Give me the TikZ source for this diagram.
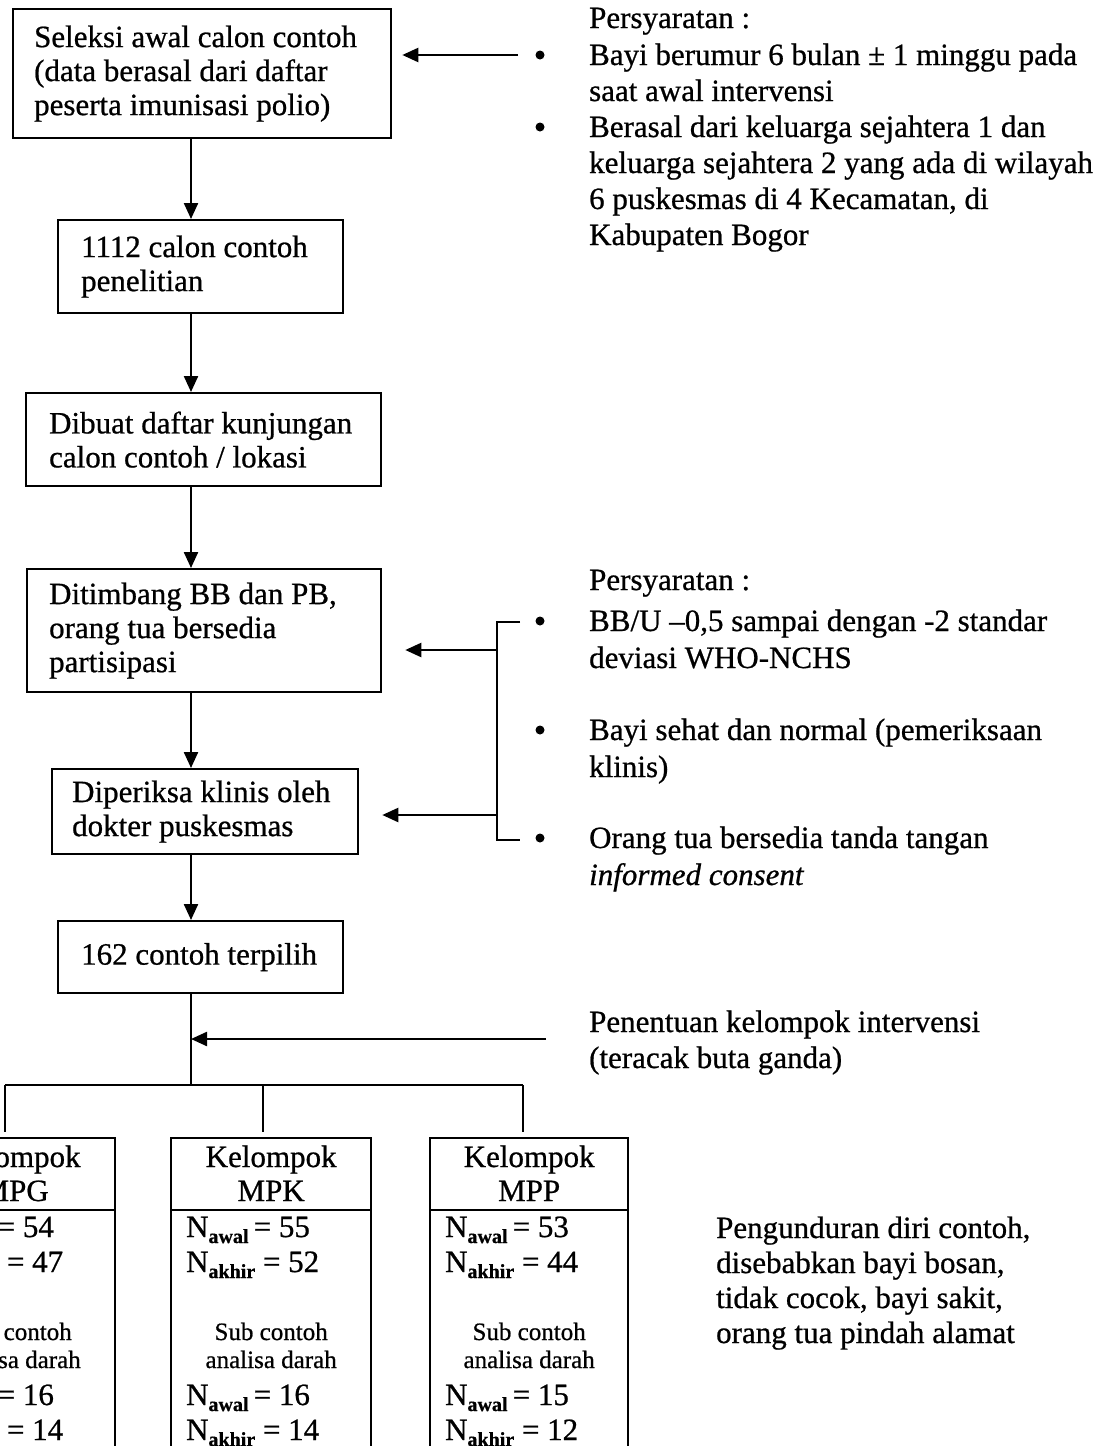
\documentclass[tikz,border=0pt]{standalone}
\usepackage{fontspec}
\setmainfont{Liberation Serif}[FakeBold=0.7]
\usetikzlibrary{arrows.meta,calc}

% N with a small bold subscript
\newcommand{\Nsub}[1]{N\raisebox{-6pt}{\fontsize{20}{20}\selectfont\bfseries #1}}

% one intervention group: name, left x, width, label, four counts
\newcommand{\grpbox}[8]{%
  \node[gbox, minimum width=#3] (#1) at (#2,1137) {};
  \draw ([yshift=-73pt]#1.north west) -- ([yshift=-73pt]#1.north east);
  \node[gtxt, anchor=base] (#1-t1) at ([yshift=-30pt]#1.north) {Kelompok};
  \node[gtxt, anchor=base] (#1-t2) at ([yshift=-64pt]#1.north) {#4};
  \node[gtxt] (#1-n1) at ([xshift=15pt,yshift=-100pt]#1.north west) {\Nsub{awal}\,= #5};
  \node[gtxt] (#1-n2) at ([xshift=15pt,yshift=-135pt]#1.north west) {\Nsub{akhir} = #6};
  \node[stxt] (#1-s1) at ([yshift=-203pt]#1.north) {Sub contoh};
  \node[stxt] (#1-s2) at ([yshift=-231pt]#1.north) {analisa darah};
  \node[gtxt] (#1-n3) at ([xshift=15pt,yshift=-268pt]#1.north west) {\Nsub{awal}\,= #7};
  \node[gtxt] (#1-n4) at ([xshift=15pt,yshift=-303pt]#1.north west) {\Nsub{akhir} = #8};
}

\begin{document}
\begin{tikzpicture}[x=1pt,y=-1pt,
  line width=2.3pt,
  arr/.style={-{Triangle[length=16pt,width=14pt]}},
  stepbox/.style={draw, rectangle, anchor=north west, align=flush left, inner ysep=0pt,
    font=\fontsize{31}{34}\selectfont},
  gbox/.style={draw, rectangle, anchor=north west, minimum height=420pt, inner sep=0pt},
  gtxt/.style={anchor=base west, inner sep=0pt, font=\fontsize{31}{34}\selectfont},
  stxt/.style={anchor=base, inner sep=0pt, font=\fontsize{25}{28}\selectfont},
  txt/.style={anchor=base west, inner sep=0pt, font=\fontsize{31}{36}\selectfont},
  bul/.style={circle, fill, inner sep=0pt, minimum size=9pt},
]
\useasboundingbox (0,0) rectangle (1105,1446);
\fill[white] (0,0) rectangle (1105,1446);
\clip (0,0) rectangle (1105,1446);

% main column of steps
\node[stepbox, minimum width=378pt, minimum height=129pt, inner xsep=21pt, text width=336pt] (b1) at (12,8)
  {\raggedright Seleksi awal calon contoh\\(data berasal dari daftar\\peserta imunisasi polio)};
\node[stepbox, minimum width=285pt, minimum height=93pt, inner xsep=23pt, text width=239pt] (b2) at (57,219)
  {\raggedright 1112 calon contoh\\penelitian};
\node[stepbox, minimum width=355pt, minimum height=93pt, inner xsep=23pt, text width=309pt] (b3) at (25,392)
  {\raggedright Dibuat daftar kunjungan\\calon contoh / lokasi};
\node[stepbox, minimum width=354pt, minimum height=123pt, inner xsep=22pt, text width=310pt] (b4) at (26,568)
  {\raggedright Ditimbang BB dan PB,\\orang tua bersedia\\partisipasi};
\node[stepbox, minimum width=306pt, minimum height=85pt, inner xsep=20pt, text width=266pt] (b5) at (51,768)
  {\raggedright Diperiksa klinis oleh\\dokter puskesmas};
\node[stepbox, minimum width=285pt, minimum height=72pt, inner xsep=23pt, text width=239pt] (b6) at (57,920)
  {\raggedright\mbox{162 contoh terpilih}};

\coordinate (spine) at (191,0);
\draw[arr] (b1.south -| spine) -- (b2.north -| spine);
\draw[arr] (b2.south -| spine) -- (b3.north -| spine);
\draw[arr] (b3.south -| spine) -- (b4.north -| spine);
\draw[arr] (b4.south -| spine) -- (b5.north -| spine);
\draw[arr] (b5.south -| spine) -- (b6.north -| spine);

% the three intervention groups
\grpbox{g1}{-86}{200pt}{MPG}{54}{47}{16}{14}
\grpbox{g2}{170}{200pt}{MPK}{55}{52}{16}{14}
\grpbox{g3}{429}{198pt}{MPP}{53}{44}{15}{12}

% split into the groups
\coordinate (split) at (191,1085);
\coordinate (bl) at (5,1085);
\coordinate (bm) at (263,1085);
\coordinate (br) at (523,1085);
\draw (b6.south -| spine) -- (split);
\draw (bl) -- (br);
\draw[shorten >=5pt] (bl) -- (bl |- g1.north);
\draw[shorten >=5pt] (bm) -- (bm |- g2.north);
\draw[shorten >=5pt] (br) -- (br |- g3.north);

% first set of requirements
\node[txt] (p1) at (588,28) {Persyaratan :};
\node[bul] (p1d1) at (540,55) {};
\node[txt] (p1a) at (588,65) {Bayi berumur 6 bulan ± 1 minggu pada};
\node[txt] (p1b) at (588,101) {saat awal intervensi};
\node[bul] (p1d2) at (540,127) {};
\node[txt] (p1c) at (588,137) {Berasal dari keluarga sejahtera 1 dan};
\node[txt] (p1e) at (588,173) {keluarga sejahtera 2 yang ada di wilayah};
\node[txt] (p1f) at (588,209) {6 puskesmas di 4 Kecamatan, di};
\node[txt] (p1g) at (588,245) {Kabupaten Bogor};
\coordinate (c1) at (518,55);
\draw[arr, shorten >=10pt] (c1) -- (c1 -| b1.east);

% second set of requirements
\node[txt] (q) at (588,590) {Persyaratan :};
\node[bul] (qd1) at (540,621) {};
\node[txt] (qa) at (588,631) {BB/U –0,5 sampai dengan -2 standar};
\node[txt] (qb) at (588,668) {deviasi WHO-NCHS};
\node[bul] (qd2) at (540,730) {};
\node[txt] (qc) at (588,740) {Bayi sehat dan normal (pemeriksaan};
\node[txt] (qe) at (588,777) {klinis)};
\node[bul] (qd3) at (540,838) {};
\node[txt] (qf) at (588,848) {Orang tua bersedia tanda tangan};
\node[txt] (qg) at (588,885) {\textit{informed consent}};
\coordinate (kt1) at (520,622);
\coordinate (kt) at (497,622);
\coordinate (kb) at (497,840);
\coordinate (kb1) at (520,840);
\draw (kt1) -- (kt) -- (kb) -- (kb1);
\coordinate (ka) at (497,650);
\coordinate (kc) at (497,815);
\draw[arr, shorten >=23pt] (ka) -- (ka -| b4.east);
\draw[arr, shorten >=23pt] (kc) -- (kc -| b5.east);

% random allocation
\node[txt] (r1) at (588,1032) {Penentuan kelompok intervensi};
\node[txt] (r2) at (588,1068) {(teracak buta ganda)};
\coordinate (pa) at (546,1039);
\draw[arr] (pa) -- (pa -| spine);

% drop-outs
\node[txt] (d1) at (715,1238) {Pengunduran diri contoh,};
\node[txt] (d2) at (715,1273) {disebabkan bayi bosan,};
\node[txt] (d3) at (715,1308) {tidak cocok, bayi sakit,};
\node[txt] (d4) at (715,1343) {orang tua pindah alamat};
\end{tikzpicture}
\end{document}
